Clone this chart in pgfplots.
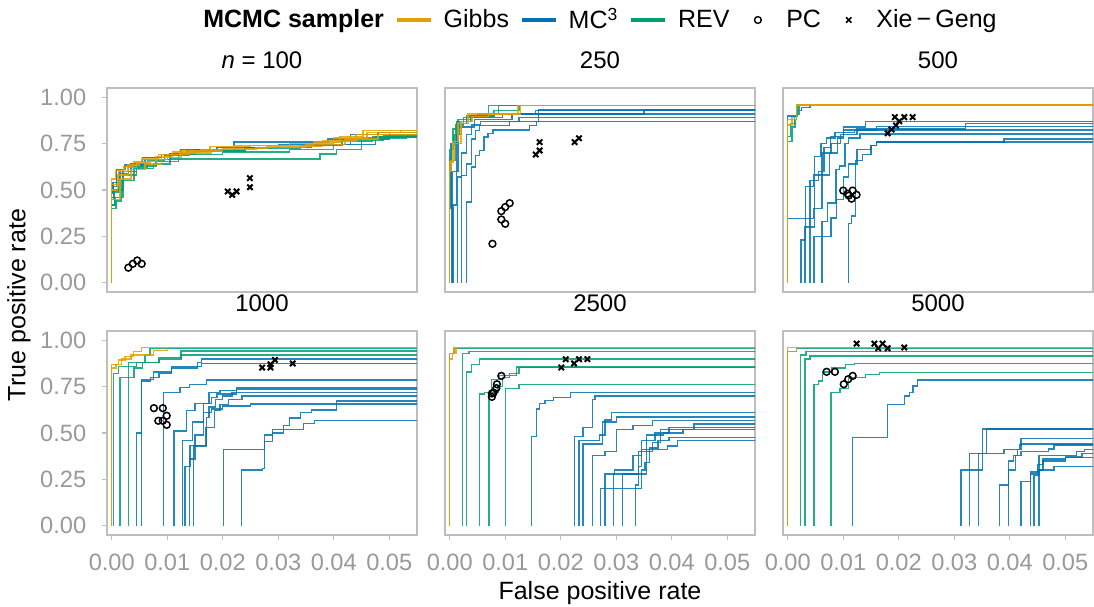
\documentclass[border=0pt]{standalone}
\usepackage{fontspec}
\setmainfont{Liberation Sans}
\usepackage{pgfplots}
\pgfplotsset{compat=1.18}
\definecolor{cgib}{RGB}{230,159,0}
\definecolor{cmc}{RGB}{0,114,178}
\definecolor{crev}{RGB}{0,158,115}
\definecolor{cbord}{RGB}{190,190,190}
\definecolor{ctick}{RGB}{153,153,153}
\newcommand\ticfont{\fontsize{11.8}{13}\selectfont}
\newcommand\labfont{\fontsize{12.5}{14}\selectfont}
\newcommand\strfont{\fontsize{12}{14}\selectfont}
\pgfplotsset{
 roc/.style={const plot, no marks, line width=0.7pt, opacity=0.85, forget plot},
 gib/.style={roc, color=cgib},
 mc/.style={roc, color=cmc},
 rev/.style={roc, color=crev},
 pcs/.style={only marks, mark=o, mark size=1.7pt, black, line width=0.75pt, forget plot},
 xgs/.style={only marks, mark=x, mark size=1.9pt, black, line width=1pt, forget plot},
 panel/.style={
  scale only axis, width=155pt, height=102pt, anchor=north west,
  xmin=-0.00085, xmax=0.0550, ymin=-0.05, ymax=1.05,
  axis line style={draw=cbord, line width=0.6pt},
  tick style={draw=cbord, line width=0.6pt},
  tick align=outside, major tick length=2.5pt,
  xtick pos=bottom, ytick pos=left,
  scaled ticks=false,
  /pgf/number format/assume math mode=true,
  /pgf/number format/fixed, /pgf/number format/fixed zerofill, /pgf/number format/precision=2,
  ticklabel style={font=\ticfont, text=ctick},
  yticklabel style={xshift=-4.4pt},
  xticklabel style={yshift=-3.3pt},
  title style={font=\strfont, at={(0.5,1)}, anchor=base, yshift=4pt, inner sep=0pt},
 },
 toprow/.style={xtick=\empty},
 botrow/.style={xtick={0,0.01,0.02,0.03,0.04,0.05}},
 leftcol/.style={ytick={0,0.25,0.5,0.75,1}},
 othercol/.style={ytick=\empty},
}
\begin{document}
\begin{tikzpicture}
% ---------------- n = 100
\begin{axis}[panel, toprow, leftcol, at={(53.5pt,-44pt)}, title={\textit{n} = 100},
  legend columns=-1,
  legend style={at={(1.5726,1.3333)}, anchor=center, draw=none, fill=none, font=\labfont,
    inner sep=0pt, nodes={inner sep=0pt},
    /tikz/every even column/.append style={column sep=5.5pt},
    /tikz/every odd column/.append style={column sep=5.5pt}}]
\addplot[mc] coordinates {(0.00001,0)(0.00001,0.46)(0.0003,0.52)(0.0009,0.61)(0.0024,0.635)(0.0055,0.675)(0.0090,0.69)(0.0125,0.72)(0.0220,0.758)(0.0390,0.775)(0.0430,0.80)(0.0480,0.81)(0.06,0.81)};
\addplot[mc] coordinates {(0.00001,0)(0.00001,0.42)(0.0005,0.50)(0.0020,0.60)(0.0045,0.64)(0.0070,0.665)(0.0105,0.695)(0.0150,0.715)(0.0240,0.73)(0.0360,0.745)(0.0430,0.775)(0.0500,0.80)(0.06,0.80)};
\addplot[mc] coordinates {(0.00001,0)(0.00001,0.48)(0.0002,0.54)(0.0015,0.60)(0.0035,0.64)(0.0060,0.665)(0.0095,0.69)(0.0135,0.71)(0.0190,0.73)(0.0300,0.745)(0.0475,0.785)(0.06,0.785)};
\addplot[rev] coordinates {(0.00001,0)(0.00001,0.40)(0.0008,0.44)(0.0017,0.55)(0.0040,0.615)(0.0075,0.64)(0.0105,0.668)(0.0375,0.695)(0.0405,0.72)(0.0450,0.78)(0.0530,0.79)(0.06,0.79)};
\addplot[rev] coordinates {(0.00001,0)(0.00001,0.42)(0.0006,0.46)(0.0020,0.58)(0.0045,0.63)(0.0080,0.655)(0.0120,0.69)(0.0200,0.705)(0.0320,0.72)(0.0400,0.76)(0.0470,0.785)(0.06,0.785)};
\addplot[rev] coordinates {(0.00001,0)(0.00001,0.45)(0.0004,0.49)(0.0013,0.59)(0.0030,0.625)(0.0065,0.66)(0.0095,0.685)(0.0140,0.71)(0.0240,0.725)(0.0340,0.74)(0.0415,0.77)(0.0490,0.795)(0.06,0.795)};
\addplot[gib] coordinates {(0.00001,0)(0.00001,0.56)(0.0007,0.605)(0.0022,0.627)(0.0039,0.65)(0.0054,0.668)(0.0084,0.691)(0.0123,0.713)(0.0177,0.735)(0.0249,0.74)(0.0363,0.758)(0.0411,0.788)(0.0453,0.821)(0.06,0.821)};
\addplot[gib] coordinates {(0.00001,0)(0.00001,0.50)(0.0010,0.58)(0.0030,0.62)(0.0045,0.645)(0.0070,0.665)(0.0100,0.69)(0.0140,0.71)(0.0200,0.725)(0.0280,0.735)(0.0380,0.765)(0.0440,0.80)(0.0500,0.81)(0.06,0.81)};
\addplot[gib] coordinates {(0.00001,0)(0.00001,0.45)(0.0015,0.56)(0.0035,0.61)(0.0060,0.64)(0.0090,0.675)(0.0125,0.70)(0.0180,0.72)(0.0260,0.73)(0.0350,0.745)(0.0420,0.775)(0.0480,0.80)(0.06,0.80)};
\addplot[gib] coordinates {(0.00001,0)(0.00001,0.53)(0.0012,0.60)(0.0028,0.635)(0.0050,0.655)(0.0080,0.68)(0.0110,0.705)(0.0160,0.72)(0.0220,0.74)(0.0320,0.75)(0.0400,0.78)(0.0460,0.81)(0.0520,0.82)(0.06,0.82)};
\addplot[pcs] coordinates {(0.0030,0.081)(0.0038,0.102)(0.0046,0.120)(0.0054,0.102)};
\addplot[xgs] coordinates {(0.0209,0.492)(0.0217,0.474)(0.0225,0.492)(0.0249,0.564)(0.0249,0.515)};
\addlegendimage{empty legend}
\addlegendentry{\textbf{MCMC sampler}}
\addlegendimage{cgib, line width=1.8pt}
\addlegendentry{Gibbs}
\addlegendimage{cmc, line width=1.8pt}
\addlegendentry{MC\textsuperscript{3}}
\addlegendimage{crev, line width=1.8pt}
\addlegendentry{REV\hspace*{7pt}}
\addlegendimage{only marks, mark=o, mark size=1.7pt, black, line width=0.7pt}
\addlegendentry{\hspace*{7pt}PC\hspace*{7pt}}
\addlegendimage{only marks, mark=x, mark size=1.9pt, black, line width=0.8pt}
\addlegendentry{\hspace*{7pt}Xie\,−\,Geng}
\end{axis}
% ---------------- 250
\begin{axis}[panel, toprow, othercol, at={(222.5pt,-44pt)}, title={250}]
\addplot[mc] coordinates {(0.0030,0)(0.0030,0.435)(0.0039,0.623)(0.0046,0.686)(0.0054,0.713)(0.0062,0.785)(0.0069,0.806)(0.0078,0.824)(0.0144,0.848)(0.0156,0.869)(0.06,0.869)};
\addplot[mc] coordinates {(0.0021,0)(0.0021,0.578)(0.0030,0.641)(0.0039,0.776)(0.0046,0.82)(0.0054,0.848)(0.0108,0.87)(0.0125,0.89)(0.06,0.89)};
\addplot[mc] coordinates {(0.0014,0)(0.0014,0.57)(0.0021,0.70)(0.0030,0.80)(0.0039,0.85)(0.0055,0.87)(0.0160,0.91)(0.06,0.91)};
\addplot[mc] coordinates {(0.0006,0)(0.0006,0.42)(0.0012,0.80)(0.0021,0.86)(0.0030,0.89)(0.0095,0.91)(0.0155,0.93)(0.06,0.932)};
\addplot[mc] coordinates {(0.00001,0)(0.00001,0.40)(0.0002,0.75)(0.0012,0.87)(0.0038,0.895)(0.0078,0.91)(0.0350,0.932)(0.06,0.932)};
\addplot[mc] coordinates {(0.0004,0)(0.0004,0.60)(0.0015,0.84)(0.0045,0.88)(0.0112,0.91)(0.0160,0.932)(0.06,0.932)};
\addplot[rev] coordinates {(0.00001,0)(0.00001,0.72)(0.0006,0.83)(0.0015,0.88)(0.0038,0.90)(0.0070,0.955)(0.06,0.955)};
\addplot[rev] coordinates {(0.00001,0)(0.00001,0.68)(0.0003,0.74)(0.0008,0.80)(0.0018,0.87)(0.0030,0.90)(0.0080,0.93)(0.0125,0.955)(0.06,0.955)};
\addplot[rev] coordinates {(0.00001,0)(0.00001,0.66)(0.0010,0.85)(0.0025,0.89)(0.0050,0.91)(0.0088,0.955)(0.06,0.955)};
\addplot[gib] coordinates {(0.00001,0)(0.00001,0.65)(0.0006,0.76)(0.0015,0.86)(0.0033,0.91)(0.0123,0.955)(0.06,0.955)};
\addplot[gib] coordinates {(0.00001,0)(0.00001,0.60)(0.0002,0.66)(0.0009,0.75)(0.0020,0.87)(0.0040,0.895)(0.0070,0.91)(0.0128,0.955)(0.06,0.955)};
\addplot[pcs] coordinates {(0.0077,0.210)(0.0093,0.341)(0.0100,0.318)(0.0093,0.386)(0.0100,0.408)(0.0108,0.429)};
\addplot[xgs] coordinates {(0.0155,0.691)(0.0162,0.713)(0.0162,0.758)(0.0225,0.758)(0.0233,0.779)};
\end{axis}
% ---------------- 500
\begin{axis}[panel, toprow, othercol, at={(391.5pt,-44pt)}, title={500}]
\addplot[mc] coordinates {(0.00001,0)(0.00001,0.345)(0.0046,0.40)(0.0062,0.58)(0.0075,0.70)(0.0090,0.78)(0.0100,0.84)(0.0140,0.869)(0.06,0.869)};
\addplot[mc] coordinates {(0.0024,0)(0.0024,0.23)(0.0032,0.52)(0.0046,0.58)(0.0062,0.70)(0.0078,0.75)(0.0095,0.80)(0.0125,0.83)(0.0320,0.857)(0.06,0.857)};
\addplot[mc] coordinates {(0.0031,0)(0.0031,0.30)(0.0040,0.55)(0.0055,0.60)(0.0065,0.73)(0.0077,0.79)(0.0100,0.824)(0.06,0.824)};
\addplot[mc] coordinates {(0.0040,0)(0.0040,0.30)(0.0048,0.68)(0.0060,0.75)(0.0070,0.78)(0.0085,0.81)(0.0120,0.82)(0.0160,0.843)(0.06,0.843)};
\addplot[mc] coordinates {(0.0047,0)(0.0047,0.25)(0.0062,0.33)(0.0072,0.43)(0.0087,0.61)(0.0093,0.63)(0.0103,0.75)(0.0110,0.78)(0.0130,0.803)(0.06,0.803)};
\addplot[mc] coordinates {(0.0062,0)(0.0062,0.25)(0.0078,0.35)(0.0088,0.45)(0.0100,0.57)(0.0110,0.64)(0.0125,0.72)(0.0150,0.74)(0.0160,0.758)(0.0390,0.776)(0.06,0.776)};
\addplot[mc] coordinates {(0.0109,0)(0.0109,0.32)(0.0115,0.36)(0.0122,0.66)(0.0135,0.69)(0.0150,0.74)(0.0160,0.758)(0.06,0.758)};
\addplot[mc] coordinates {(0.00001,0)(0.00001,0.90)(0.0016,0.93)(0.0025,0.945)(0.0040,0.955)(0.06,0.955)};
\addplot[rev] coordinates {(0.00001,0)(0.00001,0.76)(0.0008,0.84)(0.0013,0.88)(0.0016,0.91)(0.0020,0.959)(0.06,0.959)};
\addplot[rev] coordinates {(0.00001,0)(0.00001,0.79)(0.0005,0.86)(0.0012,0.90)(0.0018,0.959)(0.06,0.959)};
\addplot[gib] coordinates {(0.00001,0)(0.00001,0.88)(0.0016,0.959)(0.06,0.959)};
\addplot[gib] coordinates {(0.00001,0)(0.00001,0.85)(0.0008,0.89)(0.0016,0.959)(0.06,0.959)};
\addplot[pcs] coordinates {(0.0100,0.497)(0.0108,0.48)(0.0117,0.497)(0.0124,0.474)(0.0115,0.453)(0.0110,0.47)};
\addplot[xgs] coordinates {(0.0180,0.806)(0.0187,0.826)(0.0195,0.848)(0.0201,0.871)(0.0193,0.893)(0.0210,0.893)(0.0225,0.893)};
\end{axis}
% ---------------- 1000
\begin{axis}[panel, botrow, leftcol, at={(53.5pt,-165.5pt)}, title={1000}]
\addplot[mc] coordinates {(0.0045,0)(0.0045,0.50)(0.0054,0.78)(0.0070,0.80)(0.0085,0.82)(0.0108,0.86)(0.0162,0.875)(0.06,0.875)};
\addplot[mc] coordinates {(0.0054,0)(0.0054,0.79)(0.0075,0.83)(0.0108,0.85)(0.0155,0.88)(0.0162,0.898)(0.06,0.898)};
\addplot[mc] coordinates {(0.0093,0)(0.0093,0.72)(0.0123,0.745)(0.0140,0.763)(0.0171,0.785)(0.06,0.785)};
\addplot[mc] coordinates {(0.0132,0)(0.0132,0.32)(0.0141,0.432)(0.0171,0.585)(0.0175,0.64)(0.0187,0.68)(0.0200,0.70)(0.0217,0.718)(0.06,0.718)};
\addplot[mc] coordinates {(0.0140,0)(0.0140,0.36)(0.0150,0.49)(0.0165,0.66)(0.0180,0.69)(0.0190,0.71)(0.0225,0.742)(0.06,0.742)};
\addplot[mc] coordinates {(0.0147,0)(0.0147,0.43)(0.0170,0.53)(0.0185,0.62)(0.0195,0.655)(0.0210,0.68)(0.0235,0.70)(0.06,0.70)};
\addplot[mc] coordinates {(0.0201,0)(0.0201,0.41)(0.0275,0.49)(0.0290,0.50)(0.0310,0.54)(0.0320,0.58)(0.0340,0.61)(0.0360,0.623)(0.0405,0.673)(0.06,0.673)};
\addplot[mc] coordinates {(0.0234,0)(0.0234,0.30)(0.0272,0.31)(0.0275,0.455)(0.0290,0.52)(0.0345,0.55)(0.0365,0.566)(0.06,0.566)};
\addplot[mc] coordinates {(0.0112,0)(0.0112,0.51)(0.0135,0.62)(0.0150,0.66)(0.0175,0.72)(0.0195,0.73)(0.0225,0.735)(0.06,0.735)};
\addplot[mc] coordinates {(0.0128,0)(0.0128,0.46)(0.0145,0.56)(0.0165,0.61)(0.0180,0.63)(0.0200,0.645)(0.0250,0.656)(0.06,0.656)};
\addplot[rev] coordinates {(0.0003,0)(0.0003,0.82)(0.0012,0.86)(0.0030,0.88)(0.0060,0.92)(0.0069,0.955)(0.06,0.955)};
\addplot[rev] coordinates {(0.0015,0)(0.0015,0.80)(0.0040,0.85)(0.0055,0.88)(0.0085,0.905)(0.0125,0.943)(0.06,0.943)};
\addplot[rev] coordinates {(0.0030,0)(0.0030,0.857)(0.0045,0.88)(0.0085,0.895)(0.0125,0.92)(0.06,0.92)};
\addplot[gib] coordinates {(0.00001,0)(0.00001,0.871)(0.0012,0.894)(0.0024,0.912)(0.0039,0.939)(0.0054,0.96)(0.06,0.96)};
\addplot[gib] coordinates {(0.00001,0)(0.00001,0.85)(0.0008,0.87)(0.0018,0.90)(0.0035,0.92)(0.0075,0.945)(0.0100,0.96)(0.06,0.96)};
\addplot[pcs] coordinates {(0.0076,0.634)(0.0092,0.634)(0.0084,0.566)(0.0099,0.593)(0.0092,0.566)(0.0099,0.544)};
\addplot[xgs] coordinates {(0.0271,0.853)(0.0286,0.853)(0.0286,0.871)(0.0294,0.894)(0.0326,0.875)};
\end{axis}
% ---------------- 2500
\begin{axis}[panel, botrow, othercol, at={(222.5pt,-165.5pt)}, title={2500}]
\addplot[mc] coordinates {(0.0147,0)(0.0147,0.48)(0.0156,0.63)(0.0162,0.66)(0.0172,0.675)(0.0187,0.69)(0.0218,0.718)(0.06,0.718)};
\addplot[mc] coordinates {(0.0225,0)(0.0225,0.48)(0.0240,0.53)(0.0257,0.68)(0.0262,0.70)(0.06,0.70)};
\addplot[mc] coordinates {(0.0233,0)(0.0233,0.46)(0.0270,0.49)(0.0280,0.57)(0.0292,0.61)(0.06,0.61)};
\addplot[mc] coordinates {(0.0240,0)(0.0240,0.44)(0.0275,0.56)(0.0300,0.587)(0.06,0.587)};
\addplot[mc] coordinates {(0.0257,0)(0.0257,0.38)(0.0280,0.40)(0.0300,0.52)(0.0330,0.54)(0.0365,0.566)(0.06,0.566)};
\addplot[mc] coordinates {(0.0280,0)(0.0280,0.28)(0.0297,0.30)(0.0330,0.38)(0.0345,0.46)(0.0370,0.50)(0.0380,0.52)(0.06,0.52)};
\addplot[mc] coordinates {(0.0295,0)(0.0295,0.28)(0.0345,0.30)(0.0352,0.34)(0.0360,0.42)(0.0375,0.46)(0.0395,0.476)(0.06,0.476)};
\addplot[mc] coordinates {(0.0311,0)(0.0311,0.28)(0.0340,0.32)(0.0345,0.41)(0.0392,0.43)(0.0410,0.46)(0.06,0.46)};
\addplot[mc] coordinates {(0.0335,0)(0.0335,0.22)(0.0340,0.40)(0.0355,0.49)(0.0385,0.50)(0.0420,0.52)(0.0440,0.548)(0.06,0.548)};
\addplot[mc] coordinates {(0.0272,0)(0.0272,0.20)(0.0345,0.28)(0.0355,0.40)(0.0365,0.45)(0.0380,0.50)(0.0395,0.53)(0.06,0.53)};
\addplot[rev] coordinates {(0.00001,0)(0.00001,0.93)(0.0008,0.955)(0.06,0.955)};
\addplot[rev] coordinates {(0.0023,0)(0.0023,0.93)(0.0035,0.94)(0.06,0.94)};
\addplot[rev] coordinates {(0.0030,0)(0.0030,0.83)(0.0039,0.87)(0.0054,0.898)(0.06,0.898)};
\addplot[rev] coordinates {(0.0054,0)(0.0054,0.71)(0.0063,0.72)(0.0075,0.79)(0.0090,0.81)(0.0120,0.855)(0.06,0.855)};
\addplot[rev] coordinates {(0.0071,0)(0.0071,0.72)(0.0087,0.75)(0.0095,0.80)(0.0108,0.82)(0.0125,0.853)(0.06,0.853)};
\addplot[rev] coordinates {(0.0100,0)(0.0100,0.74)(0.0125,0.763)(0.06,0.763)};
\addplot[gib] coordinates {(0.00001,0)(0.00001,0.90)(0.0005,0.93)(0.0011,0.96)(0.06,0.96)};
\addplot[gib] coordinates {(0.00001,0)(0.00001,0.93)(0.0008,0.96)(0.06,0.96)};
\addplot[pcs] coordinates {(0.0076,0.695)(0.0076,0.713)(0.0079,0.718)(0.0084,0.742)(0.0085,0.763)(0.0093,0.808)};
\addplot[xgs] coordinates {(0.0201,0.853)(0.0209,0.898)(0.0224,0.875)(0.0233,0.898)(0.0248,0.898)};
\end{axis}
% ---------------- 5000
\begin{axis}[panel, botrow, othercol, at={(391.5pt,-165.5pt)}, title={5000}]
\addplot[mc] coordinates {(0.0117,0)(0.0117,0.476)(0.0180,0.655)(0.0210,0.70)(0.0219,0.718)(0.0226,0.754)(0.0234,0.785)(0.06,0.785)};
\addplot[mc] coordinates {(0.0312,0)(0.0312,0.30)(0.0351,0.521)(0.06,0.521)};
\addplot[mc] coordinates {(0.0327,0)(0.0327,0.39)(0.0358,0.521)(0.06,0.521)};
\addplot[mc] coordinates {(0.0344,0)(0.0344,0.39)(0.0359,0.39)(0.0390,0.41)(0.0418,0.436)(0.0420,0.47)(0.06,0.476)};
\addplot[mc] coordinates {(0.0381,0)(0.0381,0.22)(0.0398,0.35)(0.0407,0.38)(0.0414,0.41)(0.0420,0.44)(0.06,0.44)};
\addplot[mc] coordinates {(0.0398,0)(0.0398,0.30)(0.0410,0.38)(0.0420,0.40)(0.0470,0.413)(0.0480,0.436)(0.06,0.436)};
\addplot[mc] coordinates {(0.0437,0)(0.0437,0.28)(0.0450,0.30)(0.0460,0.35)(0.0500,0.37)(0.0530,0.39)(0.06,0.39)};
\addplot[mc] coordinates {(0.0444,0)(0.0444,0.27)(0.0453,0.30)(0.0480,0.32)(0.06,0.323)};
\addplot[mc] coordinates {(0.0453,0)(0.0453,0.38)(0.0520,0.40)(0.0535,0.41)(0.06,0.413)};
\addplot[mc] coordinates {(0.0420,0)(0.0420,0.24)(0.0437,0.29)(0.0450,0.33)(0.0460,0.36)(0.0500,0.368)(0.06,0.368)};
\addplot[rev] coordinates {(0.00001,0)(0.00001,0.94)(0.0016,0.955)(0.06,0.955)};
\addplot[rev] coordinates {(0.0023,0)(0.0023,0.92)(0.0033,0.94)(0.06,0.94)};
\addplot[rev] coordinates {(0.0031,0)(0.0031,0.90)(0.0040,0.916)(0.06,0.916)};
\addplot[rev] coordinates {(0.0047,0)(0.0047,0.76)(0.0055,0.78)(0.0063,0.83)(0.0080,0.85)(0.0104,0.87)(0.0120,0.875)(0.06,0.875)};
\addplot[rev] coordinates {(0.0078,0)(0.0078,0.72)(0.0094,0.74)(0.0110,0.80)(0.0140,0.815)(0.0165,0.826)(0.06,0.826)};
\addplot[gib] coordinates {(0.00001,0)(0.00001,0.94)(0.0016,0.961)(0.06,0.961)};
\addplot[gib] coordinates {(0.00001,0)(0.00001,0.96)(0.06,0.96)};
\addplot[pcs] coordinates {(0.0070,0.830)(0.0085,0.830)(0.0101,0.763)(0.0109,0.79)(0.0117,0.808)};
\addplot[xgs] coordinates {(0.0124,0.982)(0.0156,0.982)(0.0171,0.982)(0.0163,0.957)(0.0180,0.957)(0.0210,0.961)};
\end{axis}
\node[rotate=90, font=\labfont] at (9.5pt,-152.5pt) {True positive rate};
\node[font=\labfont] at (300pt,-296.5pt) {False positive rate};
\pgfresetboundingbox
\path[use as bounding box] (0,0) rectangle (547pt,-303pt);
\end{tikzpicture}
\end{document}
